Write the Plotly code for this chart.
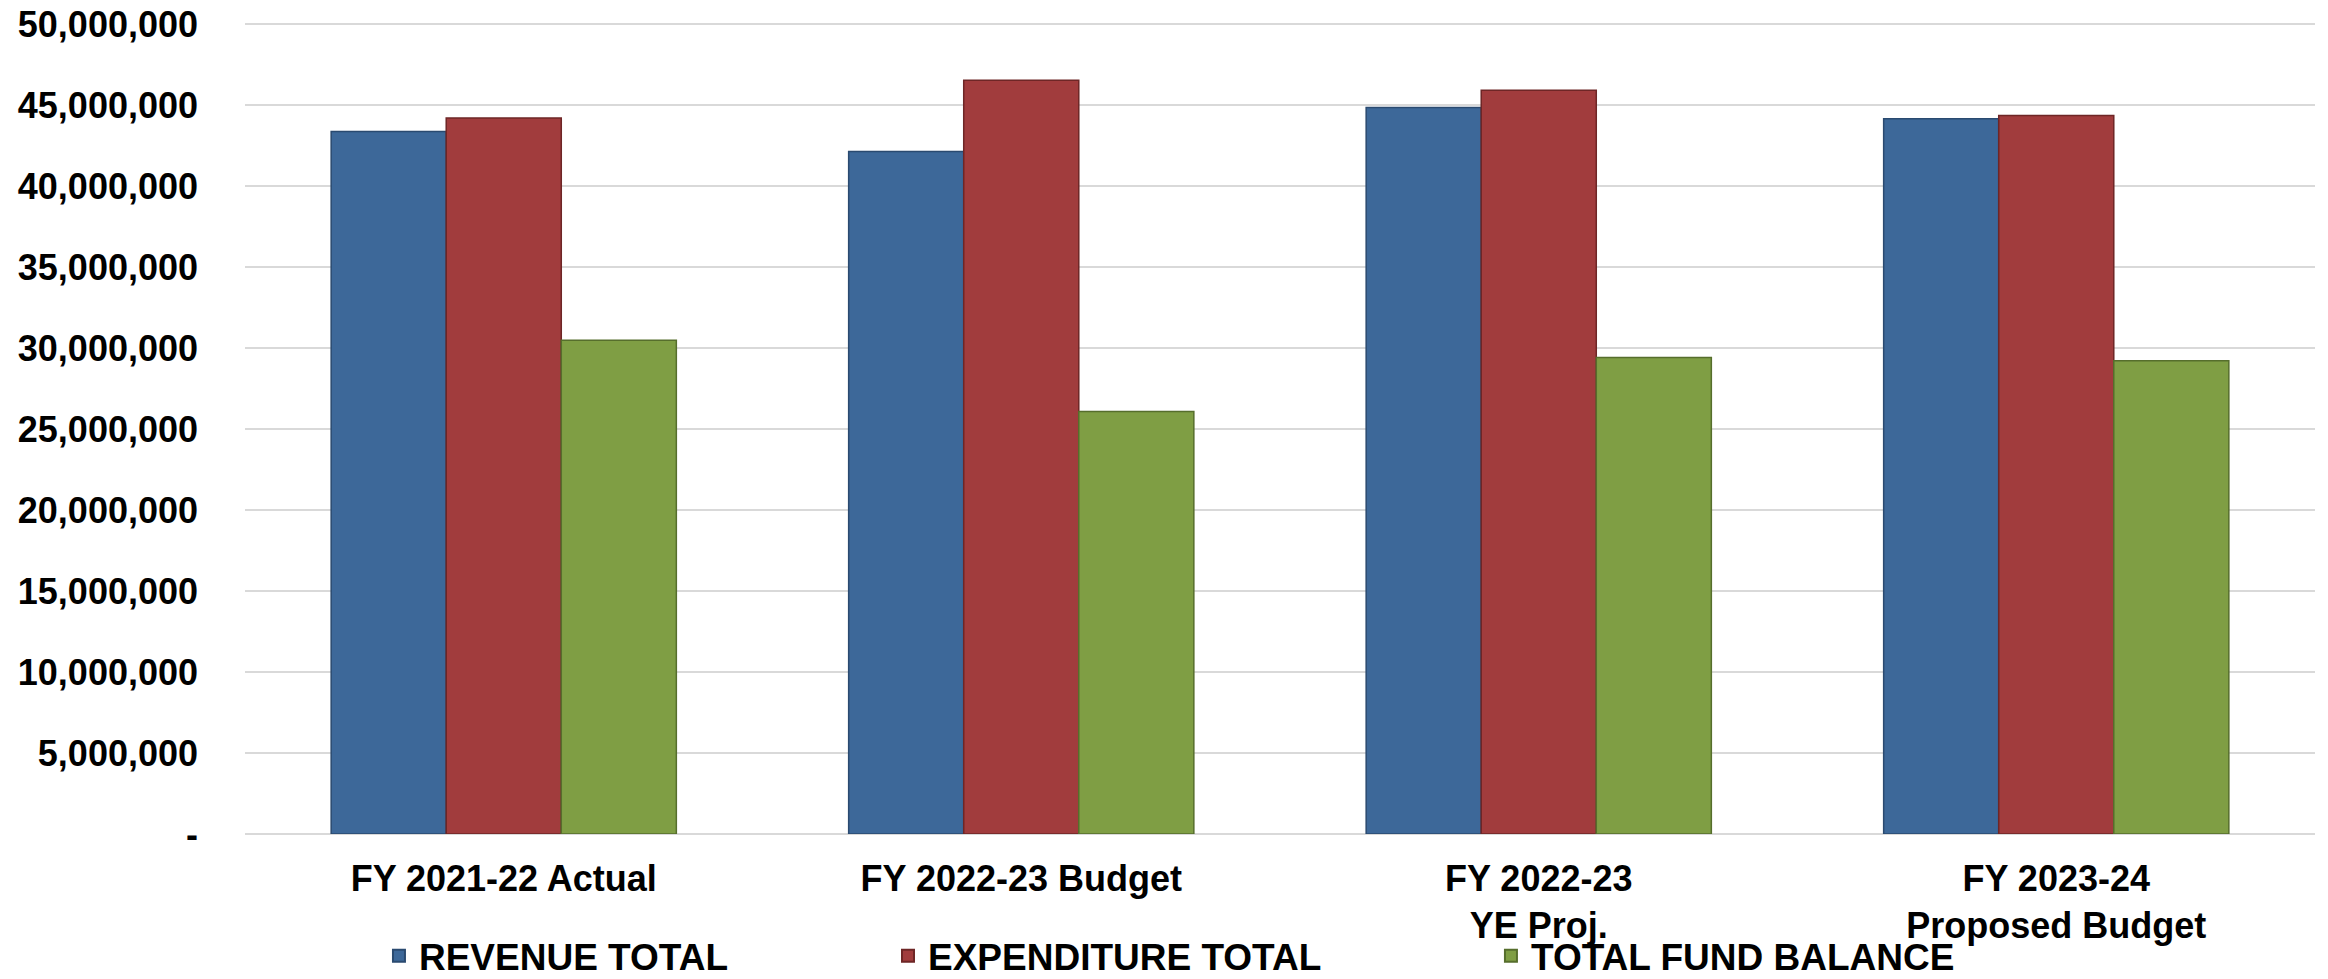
import plotly.graph_objects as go

categories = ["FY 2021-22 Actual", "FY 2022-23 Budget", "FY 2022-23<br>YE Proj.", "FY 2023-24<br>Proposed Budget"]
revenue_total = [43370000, 42130000, 44850000, 44150000]
expenditure_total = [44200000, 46540000, 45920000, 44350000]
total_fund_balance = [30490000, 26090000, 29410000, 29220000]
series_names = ["REVENUE TOTAL", "EXPENDITURE TOTAL", "TOTAL FUND BALANCE"]
y_tick_vals = [0, 5000000, 10000000, 15000000, 20000000, 25000000, 30000000, 35000000, 40000000, 45000000, 50000000]
y_tick_text = ["-", "5,000,000", "10,000,000", "15,000,000", "20,000,000", "25,000,000", "30,000,000", "35,000,000", "40,000,000", "45,000,000", "50,000,000"]

colors = ["#3D6899", "#A13C3D", "#7F9E44"]
outlines = ["#2A4A70", "#6E2626", "#566E2C"]
legend_ids = ["legend", "legend2", "legend3"]
legend_x = [0.1599, 0.3793, 0.6392]

FONT = "Liberation Sans, Arial, sans-serif"

fig = go.Figure()
for name, vals, c, oc, lg in zip(series_names, [revenue_total, expenditure_total, total_fund_balance], colors, outlines, legend_ids):
    fig.add_trace(go.Bar(
        x=categories, y=vals, name=name, legend=lg,
        marker=dict(color=c, line=dict(color=oc, width=1.5)),
    ))

legend_common = dict(
    orientation="h", xref="container", xanchor="left",
    yref="container", y=0.0235, yanchor="middle",
    font=dict(family=FONT, size=37, color="black", weight="bold"),
    itemsizing="constant", bgcolor="rgba(0,0,0,0)",
)

fig.update_layout(
    width=2320, height=971, autosize=False,
    barmode="group", bargap=0.333, bargroupgap=0,
    plot_bgcolor="white", paper_bgcolor="white",
    margin=dict(l=237, r=13, t=14, b=145, pad=0, autoexpand=False),
    font=dict(family=FONT, size=36, color="black"),
    showlegend=True,
    legend=dict(legend_common, x=legend_x[0]),
    legend2=dict(legend_common, x=legend_x[1]),
    legend3=dict(legend_common, x=legend_x[2]),
    xaxis=dict(
        showgrid=False, showline=False, zeroline=False,
        tickfont=dict(family=FONT, size=36, color="black", weight="bold"),
        ticks="", ticklabelstandoff=20,
    ),
    yaxis=dict(
        range=[0, 50130000], showgrid=True, gridcolor="#D9D9D9", gridwidth=2,
        zeroline=True, zerolinecolor="#D9D9D9", zerolinewidth=2,
        showline=False, ticks="",
        tickvals=y_tick_vals, ticktext=y_tick_text,
        tickfont=dict(family=FONT, size=36, color="black", weight="bold"),
        ticklabelstandoff=46, ticklabeloverflow="allow",
    ),
)

fig.write_html("out.html")
